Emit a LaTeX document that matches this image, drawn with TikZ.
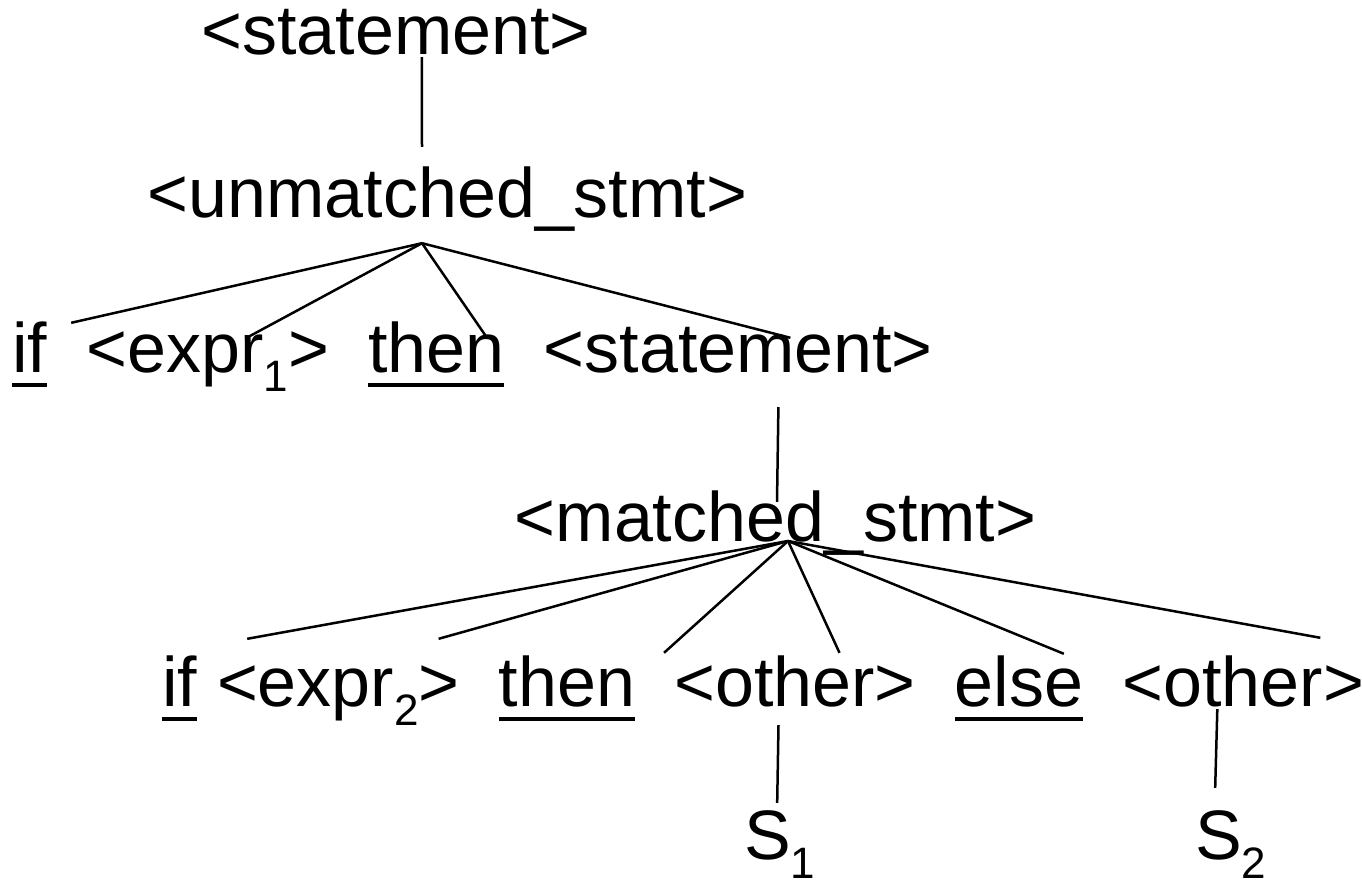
\documentclass[tikz,border=0pt]{standalone}
\usepackage{fontspec}
\setmainfont{Liberation Sans}
\usetikzlibrary{positioning}
\newcommand{\kw}[1]{\setbox0=\hbox{#1}\rlap{\rule[-15pt]{\wd0}{4pt}}\box0}
\newcommand{\sbs}[1]{\raisebox{-19pt}{\fontsize{44}{44}\selectfont #1}}
\tikzset{sym/.style={inner sep=0pt, text height=50pt, text depth=16pt, font=\fontsize{70}{84}\selectfont}}
\tikzstyle{br}=[line width=2.5pt]

\begin{document}
\begin{tikzpicture}[x=1pt, y=-1pt, node distance=38.9pt]
\useasboundingbox (0,0) rectangle (1362,888);
% rows of the tree, top to bottom
\node[sym, anchor=base] (st0) at (396,55) {<statement>};
\node[sym, anchor=base] (unm) at (447.5,217) {<unmatched\_stmt>};
\node[sym, anchor=base west] (if3) at (12,372) {\kw{if}};
\node[sym][base right=of if3] (ex1) {<expr\sbs{1}>};
\node[sym][base right=of ex1] (th3) {\kw{then}};
\node[sym][base right=of th3] (st1) {<statement>};
\node[sym, anchor=base] (mat) at (775.5,541) {<matched\_stmt>};
\node[sym, anchor=base west] (if5) at (162,706) {\kw{if}};
\node[sym][base right=19.5pt of if5] (ex2) {<expr\sbs{2}>};
\node[sym][base right=of ex2] (th5) {\kw{then}};
\node[sym][base right=of th5] (ot1) {<other>};
\node[sym][base right=of ot1] (el5) {\kw{else}};
\node[sym][base right=of el5] (ot2) {<other>};
\node[sym, anchor=base west] (s1) at (744,859) {S\sbs{1}};
\node[sym, anchor=base west] (s2) at (1195,859) {S\sbs{2}};

% branch points
\coordinate (U) at ([shift={(-25.5,10)}]unm.south);
\coordinate (M) at ([shift={(12.5,0)}]mat.base);

\path[br] ([shift={(25.8,-14)}]st0.south) edge ([shift={(-25.5,-20)}]unm.north)
(U) edge ([shift={(41.5,1)}]if3.north)
    edge ([shift={(38.9,16)}]ex1.north)
    edge ([shift={(50.7,16)}]th3.north)
    edge ([shift={(52.1,16)}]st1.north)
([shift={(40.1,19)}]st1.south) edge ([shift={(1.5,11)}]mat.north)
(M) edge ([shift={(67.5,-17)}]if5.north)
    edge ([shift={(100.3,-17)}]ex2.north)
    edge ([shift={(97.1,-3)}]th5.north)
    edge ([shift={(44.5,-3)}]ot1.north)
    edge ([shift={(44.7,-2)}]el5.north)
    edge ([shift={(77,-18)}]ot2.north)
([shift={(-16.5,3)}]ot1.south) edge ([shift={(-2.6,-6)}]s1.north)
([shift={(-26,-13)}]ot2.south) edge ([shift={(-15.6,-21)}]s2.north)
;
\end{tikzpicture}
\end{document}
